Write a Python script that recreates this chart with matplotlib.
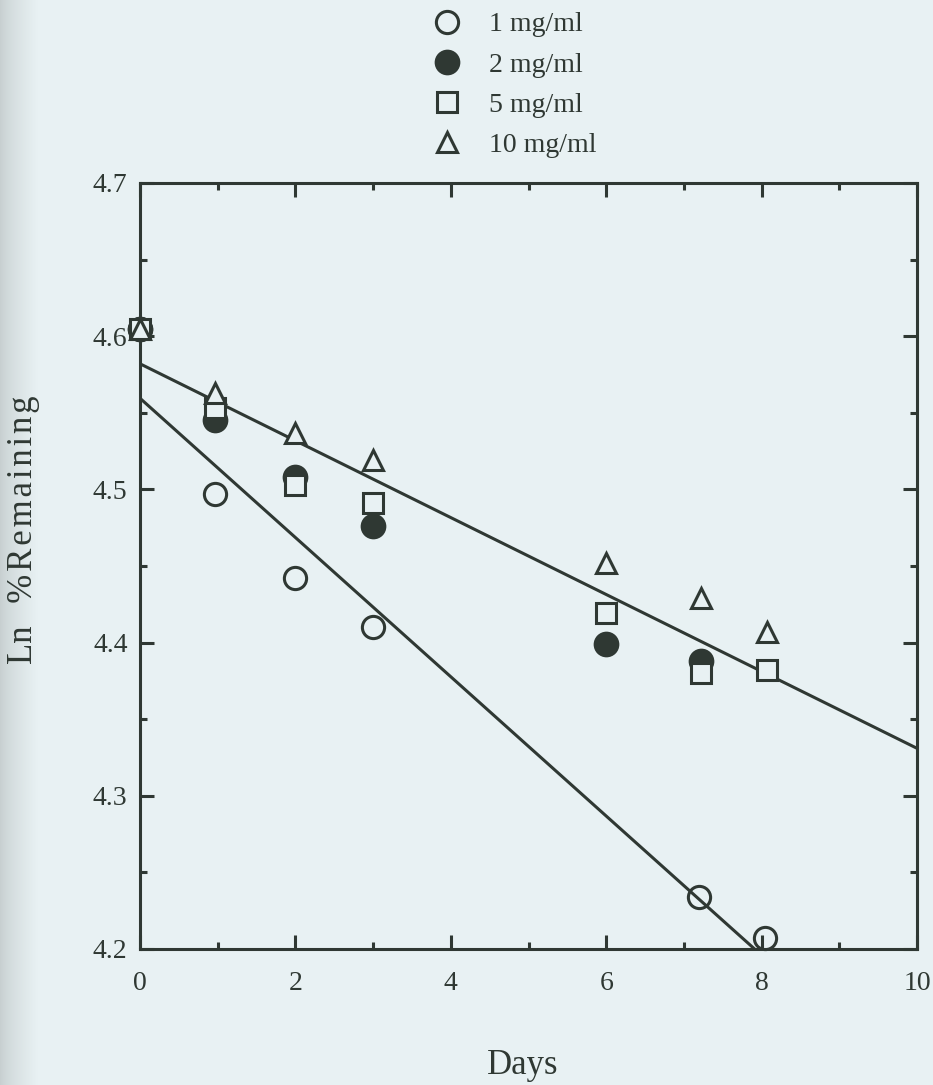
import numpy as np
import matplotlib.pyplot as plt
from matplotlib.colors import LinearSegmentedColormap
from matplotlib.ticker import MultipleLocator

# stability data, Ln % remaining vs storage time
days_1 = [0, 0.97, 2.0, 3.0, 7.2, 8.05]
ln_1 = [4.605, 4.497, 4.442, 4.410, 4.234, 4.207]

days_2 = [0, 0.97, 2.0, 3.0, 6.0, 7.22]
ln_2 = [4.605, 4.545, 4.508, 4.476, 4.399, 4.388]

days_5 = [0, 0.97, 2.0, 3.0, 6.0, 7.22, 8.07]
ln_5 = [4.605, 4.553, 4.503, 4.491, 4.419, 4.380, 4.382]

days_10 = [0, 0.97, 2.0, 3.0, 6.0, 7.22, 8.07]
ln_10 = [4.605, 4.563, 4.537, 4.519, 4.452, 4.429, 4.407]

# fitted lines (intercept, slope)
fit_low = (4.5595, -0.04545)
fit_high = (4.582, -0.0251)

labels = ["1 mg/ml", "2 mg/ml", "5 mg/ml", "10 mg/ml"]

bg = "#e8f1f3"
ink = "#2f3833"

plt.rcParams["font.family"] = ["Liberation Serif", "DejaVu Serif"]

fig = plt.figure(figsize=(9.33, 10.85), dpi=100, facecolor=bg)

# scanner shadow on the left edge
shade = fig.add_axes([0, 0, 0.04, 1], zorder=-5)
grad = np.linspace(0, 1, 200)[None, :] ** 0.7
shade.imshow(grad, aspect="auto", cmap=LinearSegmentedColormap.from_list("s", ["#c6cecf", bg]),
             extent=[0, 1, 0, 1])
shade.axis("off")

ax = fig.add_axes([140 / 933, 1 - 949 / 1085, 777 / 933, 766 / 1085])
ax.set_facecolor(bg)

xx = np.array([0, 10])
ax.plot(xx, fit_low[0] + fit_low[1] * xx, color=ink, lw=2.2, zorder=2)
ax.plot(xx, fit_high[0] + fit_high[1] * xx, color=ink, lw=2.2, zorder=2)

h1, = ax.plot(days_1, ln_1, "o", ms=16, mfc="none", mec=ink, mew=2.2, ls="none", zorder=3, clip_on=False)
h2, = ax.plot(days_2, ln_2, "o", ms=17, mfc=ink, mec=ink, mew=1.5, ls="none", zorder=3, clip_on=False)
h3, = ax.plot(days_5, ln_5, "s", ms=14.5, mfc=bg, mec=ink, mew=2.2, ls="none", zorder=4, clip_on=False)
h4, = ax.plot(days_10, ln_10, "^", ms=15, mfc=bg, mec=ink, mew=2.2, ls="none", zorder=5, clip_on=False)

ax.set_xlim(0, 10)
ax.set_ylim(4.2, 4.7)
ax.xaxis.set_major_locator(MultipleLocator(2))
ax.xaxis.set_minor_locator(MultipleLocator(1))
ax.yaxis.set_major_locator(MultipleLocator(0.1))
ax.yaxis.set_minor_locator(MultipleLocator(0.05))
ax.yaxis.set_major_formatter(plt.FuncFormatter(lambda v, p: f"{v:.1f}"))

ax.tick_params(which="both", direction="in", top=True, right=True, color=ink,
               labelcolor=ink, labelsize=20)
ax.tick_params(axis="x", pad=16)
ax.tick_params(axis="y", pad=9)
ax.tick_params(which="major", length=10, width=2.2)
ax.tick_params(which="minor", length=5, width=2.2)
for s in ax.spines.values():
    s.set_color(ink)
    s.set_linewidth(2.2)

fig.text(523 / 933, 1 - 1066 / 1085, "Days", fontsize=25, color=ink, ha="center", va="center")
fig.text(24 / 933, 1 - 530 / 1085, "Ln\u2009\u2009 %\u200aR\u200ae\u200am\u200aa\u200ai\u200an\u200ai\u200an\u200ag",
         fontsize=25, color=ink, rotation=90, ha="center", va="center")

fig.legend([h1, h2, h3, h4], labels, loc="upper left", bbox_to_anchor=(433 / 933, 1 - 12 / 1085),
           frameon=False, fontsize=20, handlelength=1.0, handletextpad=1.0, labelspacing=0.53,
           borderpad=0, borderaxespad=0, labelcolor=ink)

fig.savefig("out.png", dpi=100, facecolor=bg)
